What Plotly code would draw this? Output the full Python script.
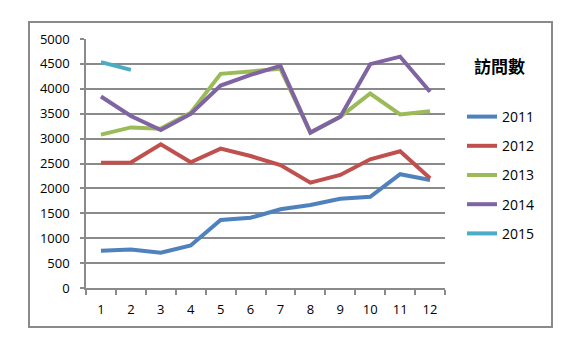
import plotly.graph_objects as go

months = ["1", "2", "3", "4", "5", "6", "7", "8", "9", "10", "11", "12"]
y2011 = [750, 775, 710, 855, 1365, 1410, 1580, 1665, 1790, 1830, 2285, 2170]
y2012 = [2515, 2520, 2885, 2525, 2800, 2650, 2470, 2115, 2270, 2585, 2745, 2205]
y2013 = [3080, 3225, 3200, 3520, 4300, 4340, 4400, None, None, 3905, 3485, 3550]
y2014 = [3845, 3455, 3170, 3495, 4065, 4280, 4460, 3120, 3440, 4495, 4645, 3940]
y2015 = [4535, 4380]
series_names = ["2011", "2012", "2013", "2014", "2015"]
colors = ["#4F81BD", "#C0504D", "#9BBB59", "#8064A2", "#4BACC6"]
y_ticks = [0, 500, 1000, 1500, 2000, 2500, 3000, 3500, 4000, 4500, 5000]
legend_title = "訪問數"

# 2013 shares points 8,9 with 2014 (hidden underneath) - fill from 2014
y2013_full = [v if v is not None else y2014[i] for i, v in enumerate(y2013)]

W, H = 584, 352
L, R, T, B = 86, 445, 39, 288

fig = go.Figure()
data = [y2011, y2012, y2013_full, y2014, y2015]
for name, vals, c in zip(series_names, data, colors):
    fig.add_trace(go.Scatter(
        x=months[:len(vals)], y=vals, name=name, mode="lines",
        line=dict(color=c, width=4), legendgroup=name,
    ))

pw, ph = R - L, B - T
def px(x):
    return (x - L) / pw
def py(y):
    return (B - y) / ph

fig.add_shape(type="rect", xref="paper", yref="paper",
              x0=px(29), x1=px(552), y0=py(327), y1=py(22),
              line=dict(color="#8A8A8A", width=2), layer="below")

fig.add_annotation(text="<b>" + legend_title + "</b>", xref="paper", yref="paper",
                   x=px(500), y=py(65), showarrow=False,
                   font=dict(family="Noto Sans CJK TC", size=17, color="#000"),
                   xanchor="center", yanchor="middle")

fig.update_layout(
    width=W, height=H,
    margin=dict(l=L, r=W - R, t=T, b=H - B),
    paper_bgcolor="white", plot_bgcolor="white",
    font=dict(family="Open Sans", size=13, color="#000"),
    showlegend=True,
    legend=dict(x=px(462), y=py(101), xanchor="left", yanchor="top",
                font=dict(size=14, family="Open Sans"), tracegroupgap=8,
                bgcolor="rgba(0,0,0,0)"),
    xaxis=dict(type="category", categoryorder="array", categoryarray=months,
               range=[-0.5, 11.5], showgrid=False,
               showline=True, linecolor="#8A8A8A", linewidth=1.5,
               ticks="outside", tickson="boundaries", ticklen=5,
               tickcolor="#8A8A8A", tickwidth=1.5, ticklabelstandoff=9,
               zeroline=False),
    yaxis=dict(range=[0, 5000], tickvals=y_ticks, showgrid=True,
               gridcolor="#8A8A8A", gridwidth=1.5,
               showline=True, linecolor="#8A8A8A", linewidth=1.5,
               ticks="outside", ticklen=4, tickcolor="#8A8A8A", tickwidth=1.5,
               ticklabelstandoff=8, zeroline=False),
)

fig.write_html("out.html")
